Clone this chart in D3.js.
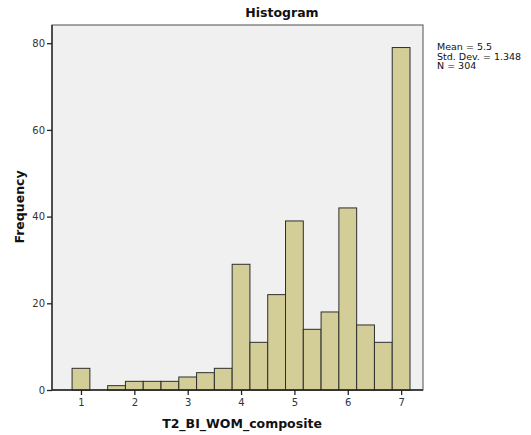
<!DOCTYPE html>
<html>
<head>
<meta charset="utf-8">
<script src="https://cdn.jsdelivr.net/npm/d3@7"></script>
<style>
  html, body { margin: 0; padding: 0; background: #fff; }
  svg { display: block; font-family: "DejaVu Sans", sans-serif; }
</style>
</head>
<body>
<svg id="chart" width="531" height="435"></svg>
<script>
// Bin centres (composite scores step 1/3) and their frequencies
const binCenters = [1, 4/3, 5/3, 2, 7/3, 8/3, 3, 10/3, 11/3, 4, 13/3, 14/3, 5, 16/3, 17/3, 6, 19/3, 20/3, 7];
const frequencies = [5, 0, 1, 2, 2, 2, 3, 4, 5, 29, 11, 22, 39, 14, 18, 42, 15, 11, 79];
const binWidth = 1/3;
const xTicks = [1, 2, 3, 4, 5, 6, 7];
const yTicks = [0, 20, 40, 60, 80];
const statsLines = ["Mean = 5.5", "Std. Dev. = 1.348", "N = 304"];

const svg = d3.select("#chart");
const plotLeft = 52, plotRight = 423, plotTop = 25, plotBottom = 390;

const x = d3.scaleLinear().domain([0.457, 7.41]).range([plotLeft, plotRight]);
const y = d3.scaleLinear().domain([0, 84.2]).range([plotBottom, plotTop]);

// plot background
svg.append("rect")
  .attr("x", plotLeft).attr("y", plotTop)
  .attr("width", plotRight - plotLeft).attr("height", plotBottom - plotTop)
  .attr("fill", "#f0f0f0")
  .attr("stroke", "#6b6b6b").attr("stroke-width", 1.2);

// bars
svg.append("g").selectAll("rect")
  .data(binCenters.map((c, i) => ({ c, f: frequencies[i] })).filter(d => d.f > 0))
  .join("rect")
  .attr("x", d => x(d.c - binWidth / 2))
  .attr("y", d => y(d.f))
  .attr("width", d => x(d.c + binWidth / 2) - x(d.c - binWidth / 2))
  .attr("height", d => y(0) - y(d.f))
  .attr("fill", "#d3ce98")
  .attr("stroke", "#2e2e2e")
  .attr("stroke-width", 1);

// axes
const xAxis = d3.axisBottom(x).tickValues(xTicks).tickFormat(d3.format("d")).tickSize(5).tickPadding(4);
const yAxis = d3.axisLeft(y).tickValues(yTicks).tickFormat(d3.format("d")).tickSize(5).tickPadding(2);

const gx = svg.append("g").attr("transform", `translate(0,${plotBottom})`).call(xAxis);
const gy = svg.append("g").attr("transform", `translate(${plotLeft},0)`).call(yAxis);

[gx, gy].forEach(g => {
  g.select(".domain").attr("stroke", "#222").attr("stroke-width", 1.3);
  g.selectAll(".tick line").attr("stroke", "#222").attr("stroke-width", 1.3);
  g.selectAll(".tick text")
    .attr("fill", "#333")
    .style("font-size", "10px")
    .style("font-family", "'DejaVu Sans', sans-serif");
});
gx.select(".domain").attr("d", `M${plotLeft},0H${plotRight}`);
gy.select(".domain").attr("d", `M0,${plotBottom}V${plotTop}`);

// title
svg.append("text")
  .attr("x", 282).attr("y", 17)
  .attr("text-anchor", "middle")
  .attr("font-weight", "bold")
  .style("font-size", "12.5px")
  .attr("fill", "#111")
  .text("Histogram");

// axis titles
svg.append("text")
  .attr("x", 242).attr("y", 428)
  .attr("text-anchor", "middle")
  .attr("font-weight", "bold")
  .style("font-size", "12.5px")
  .attr("fill", "#111")
  .text("T2_BI_WOM_composite");

svg.append("text")
  .attr("transform", `translate(24,207) rotate(-90)`)
  .attr("text-anchor", "middle")
  .attr("font-weight", "bold")
  .style("font-size", "12.5px")
  .attr("fill", "#111")
  .text("Frequency");

// summary statistics
svg.append("g").selectAll("text")
  .data(statsLines)
  .join("text")
  .attr("x", 437)
  .attr("y", (d, i) => 50 + i * 9.5)
  .style("font-size", "9.5px")
  .attr("fill", "#111")
  .text(d => d);
</script>
</body>
</html>
